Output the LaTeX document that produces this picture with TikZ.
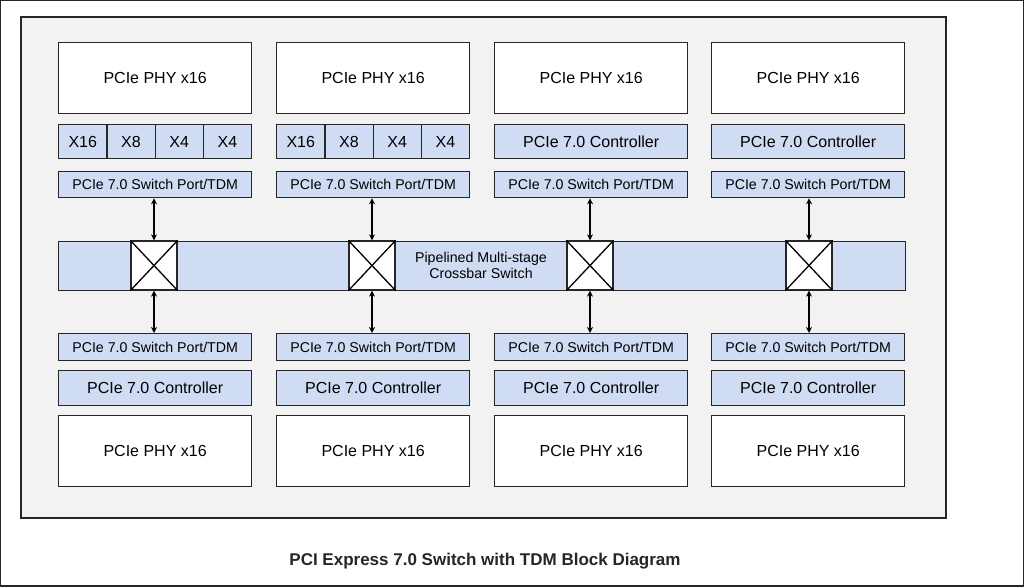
\documentclass[tikz,border=0pt]{standalone}
\usepackage{fontspec}
\setmainfont{Liberation Sans}
\usetikzlibrary{arrows.meta}
\definecolor{bg}{HTML}{F2F2F2}
\definecolor{lb}{HTML}{D0DCF4}
\tikzset{
  box/.style={draw=black!85, line width=1.3pt, inner sep=0pt, anchor=north west, font=\fontsize{16}{18}\selectfont},
  white/.style={box, fill=white},
  blue/.style={box, fill=lb},
  port/.style={blue, font=\fontsize{14.2}{16}\selectfont},
  xbox/.style={box, fill=white, anchor=center, minimum width=46pt, minimum height=49pt},
  link/.style={line width=1.5pt, {Stealth[length=6pt,width=6pt]}-{Stealth[length=6pt,width=6pt]}}
}
\begin{document}
\begin{tikzpicture}[x=1pt,y=-1pt]
\useasboundingbox (0,0) rectangle (1024,586);
\fill[white] (0,0) rectangle (1024,586);
\draw[fill=bg, line width=1.5pt, draw=black!85] (21,17) rectangle (946,518);
\foreach \i/\x in {1/58,2/276,3/494,4/711}{
  \node[white, minimum width=193pt, minimum height=71pt] (tp\i) at (\x,42) {PCIe PHY x16};
  \node[port, minimum width=193pt, minimum height=26pt] (tsp\i) at (\x,171) {PCIe 7.0 Switch Port/TDM};
  \node[port, minimum width=193pt, minimum height=27pt] (bsp\i) at (\x,333) {PCIe 7.0 Switch Port/TDM};
  \node[blue, minimum width=193pt, minimum height=35pt] (bc\i) at (\x,370) {PCIe 7.0 Controller};
  \node[white, minimum width=193pt, minimum height=71pt] (bp\i) at (\x,415) {PCIe PHY x16};
}
\foreach \i/\x in {1/58,2/276}{
  \node[blue, minimum width=48.25pt, minimum height=34pt] (a\i) at (\x,124) {X16};
  \node[blue, minimum width=48.25pt, minimum height=34pt] (b\i) at (\x+48.25,124) {X8};
  \node[blue, minimum width=48.25pt, minimum height=34pt] (c\i) at (\x+96.5,124) {X4};
  \node[blue, minimum width=48.25pt, minimum height=34pt] (d\i) at (\x+144.75,124) {X4};
}
\foreach \i/\x in {3/494,4/711}{
  \node[blue, minimum width=193pt, minimum height=34pt] (tc\i) at (\x,124) {PCIe 7.0 Controller};
}
\node[blue, minimum width=847pt, minimum height=49pt] (xbar) at (58,241) {};
\node[font=\fontsize{14.2}{16}\selectfont, align=center] (xlabel) at (481,265) {Pipelined Multi-stage\\Crossbar Switch};
\foreach \i/\x in {1/154,2/372,3/590,4/809}{
  \node[xbox] (x\i) at (\x,265.5) {};
  \draw[line width=1.3pt] (x\i.north west) -- (x\i.south east) (x\i.north east) -- (x\i.south west);
  \draw[link] (tsp\i.south -| x\i.north) -- (x\i.north);
  \draw[link] (x\i.south) -- (bsp\i.north -| x\i.south);
}
\node[font=\bfseries\fontsize{17}{19}\selectfont, text=black!85] (cap) at (485,561) {PCI Express 7.0 Switch with TDM Block Diagram};
\end{tikzpicture}
\end{document}
